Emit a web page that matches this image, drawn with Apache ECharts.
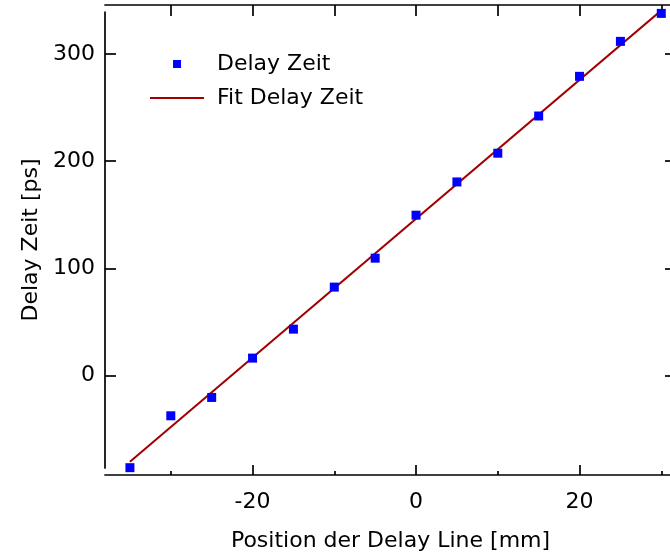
<!DOCTYPE html>
<html>
<head>
<meta charset="utf-8">
<script src="https://cdn.jsdelivr.net/npm/echarts@6/dist/echarts.min.js"></script>
<style>
  html, body { margin: 0; padding: 0; background: #fff; }
  #chart { width: 670px; height: 557px; }
</style>
</head>
<body>
<div id="chart"></div>
<script>
// Measured delay vs. stage position
const positionMm = [-35, -30, -25, -20, -15, -10, -5, 0, 5, 10, 15, 20, 25, 30];
const delayPs = [-86, -37.6, -20.5, 16.2, 43.2, 82.4, 109.4, 149.5, 180.5, 207.3, 242, 279, 311.6, 337.7];

// Linear fit, evaluated at the ends of the measured range
const fitPositionMm = [-35, 30];
const fitDelayPs = [-80.5, 340.5];

// Tick positions
const xMajorTicks = [-20, 0, 20];
const xMinorTicks = [-30, -10, 10, 30];
const xTopTicks = [-30, -20, -10, 0, 10, 20, 30];
const yTicks = [0, 100, 200, 300];

// Axis extents
const xRange = [-38.05, 31.8];
const yRange = [-86.3, 339];

const FONT = 'DejaVu Sans';
const INK = '#000';
const FIT_COLOR = '#a00000';
const POINT_COLOR = '#0000ff';
const axisLine = { color: INK, width: 1.7 };
const tickLine = { color: INK, width: 1.7 };
const legendText = { fontFamily: FONT, fontSize: 22, color: INK };

const measured = positionMm.map((x, i) => [x, delayPs[i]]);
const fitted = fitPositionMm.map((x, i) => [x, fitDelayPs[i]]);

const chart = echarts.init(document.getElementById('chart'), null, { renderer: 'canvas' });

chart.setOption({
  animation: false,
  backgroundColor: '#fff',
  // the right frame axis sits just past the visible edge
  grid: { left: 105, width: 571, top: 12, bottom: 89, containLabel: false, outerBoundsMode: 'none' },
  legend: [
    {
      left: 173, top: 53, padding: 0,
      itemWidth: 8, itemHeight: 8,
      textStyle: Object.assign({ padding: [0, 0, 0, 31] }, legendText),
      data: [{ name: 'Delay Zeit', icon: 'rect', itemStyle: { color: POINT_COLOR, opacity: 1 } }]
    },
    {
      left: 150, top: 87, padding: 0,
      itemWidth: 54, itemHeight: 2,
      symbolKeepAspect: false,
      textStyle: Object.assign({ padding: [0, 0, 0, 8] }, legendText),
      data: [{ name: 'Fit Delay Zeit', icon: 'rect', itemStyle: { color: FIT_COLOR } }]
    }
  ],
  xAxis: [
    {
      type: 'value', position: 'bottom', offset: 7,
      min: xRange[0], max: xRange[1],
      axisLine: { onZero: false, lineStyle: axisLine },
      axisTick: { inside: true, length: 10, lineStyle: tickLine, customValues: xMajorTicks },
      axisLabel: { customValues: xMajorTicks, margin: 16, fontFamily: FONT, fontSize: 22, color: INK },
      splitLine: { show: false },
      name: 'Position der Delay Line [mm]',
      nameLocation: 'middle', nameGap: 55,
      nameTextStyle: { fontFamily: FONT, fontSize: 22, color: INK }
    },
    {
      type: 'value', position: 'bottom', offset: 7,
      min: xRange[0], max: xRange[1],
      axisLine: { show: false, onZero: false },
      axisTick: { inside: true, length: 4, lineStyle: tickLine, customValues: xMinorTicks },
      axisLabel: { show: false },
      splitLine: { show: false }
    },
    {
      type: 'value', position: 'top', offset: 7,
      min: xRange[0], max: xRange[1],
      axisLine: { onZero: false, lineStyle: axisLine },
      axisTick: { inside: true, length: 11, lineStyle: tickLine, customValues: xTopTicks },
      axisLabel: { show: false },
      splitLine: { show: false }
    }
  ],
  yAxis: [
    {
      type: 'value', position: 'left',
      min: yRange[0], max: yRange[1],
      axisLine: { onZero: false, lineStyle: axisLine },
      axisTick: { inside: true, length: 11, lineStyle: tickLine, customValues: yTicks },
      axisLabel: { customValues: yTicks, margin: 10, fontFamily: FONT, fontSize: 22, color: INK },
      splitLine: { show: false },
      name: 'Delay Zeit [ps]',
      nameLocation: 'middle', nameGap: 62,
      nameTextStyle: { fontFamily: FONT, fontSize: 22, color: INK }
    },
    {
      type: 'value', position: 'right',
      min: yRange[0], max: yRange[1],
      axisLine: { onZero: false, lineStyle: axisLine },
      axisTick: { inside: true, length: 11, lineStyle: tickLine, customValues: yTicks },
      axisLabel: { show: false },
      splitLine: { show: false }
    }
  ],
  series: [
    {
      name: 'Fit Delay Zeit',
      type: 'line',
      xAxisIndex: 0, yAxisIndex: 0,
      data: fitted,
      symbol: 'none',
      lineStyle: { color: FIT_COLOR, width: 2 },
      itemStyle: { color: FIT_COLOR },
      z: 2
    },
    {
      name: 'Delay Zeit',
      type: 'scatter',
      xAxisIndex: 0, yAxisIndex: 0,
      data: measured,
      symbol: 'rect',
      symbolSize: 9,
      itemStyle: { color: POINT_COLOR, opacity: 1 },
      z: 3
    }
  ]
});
</script>
</body>
</html>
